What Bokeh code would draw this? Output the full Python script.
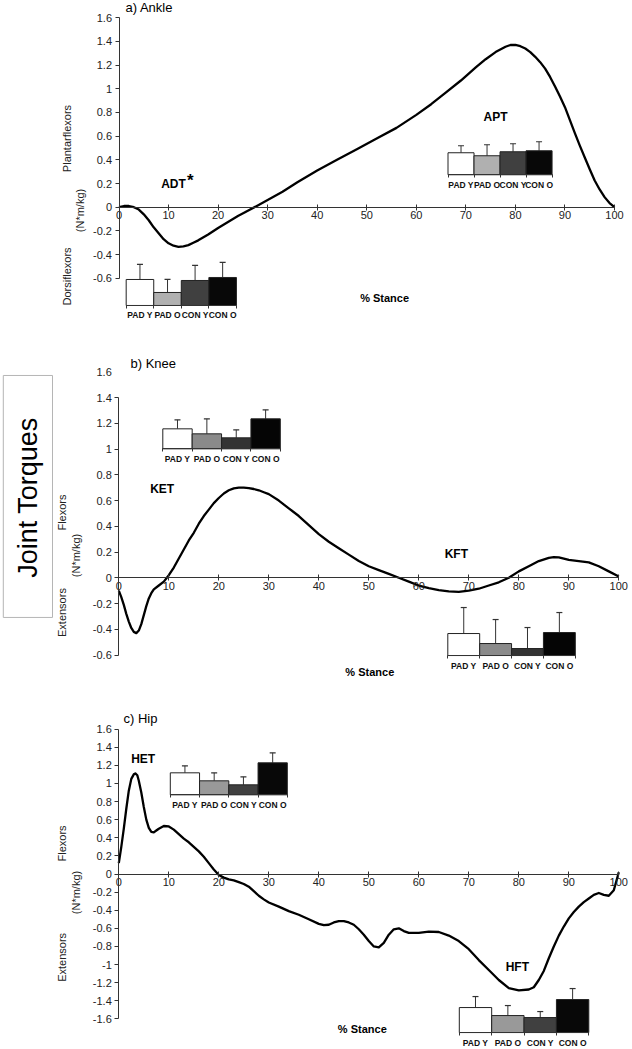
import numpy as np
from bokeh.plotting import figure
from bokeh.layouts import column
from bokeh.models import Range1d, LinearAxis, FixedTicker, CustomJSTickFormatter, ColumnDataSource
from bokeh.core.properties import value
from bokeh.embed import file_html
from bokeh.resources import INLINE

# ------------------------------------------------------------------ data
stance_ticks = [0, 10, 20, 30, 40, 50, 60, 70, 80, 90, 100]
ankle_ticks = [-0.6, -0.4, -0.2, 0, 0.2, 0.4, 0.6, 0.8, 1, 1.2, 1.4, 1.6]
knee_ticks = [-0.6, -0.4, -0.2, 0, 0.2, 0.4, 0.6, 0.8, 1, 1.2, 1.4]
knee_top_tick = [1.6]
hip_ticks = [-1.6, -1.4, -1.2, -1, -0.8, -0.6, -0.4, -0.2, 0, 0.2, 0.4, 0.6,
             0.8, 1, 1.2, 1.4, 1.6]

ankle_x = [0, 1, 2, 3, 4, 5, 6, 7, 8, 9, 10, 11, 12, 13, 14, 15, 16, 18, 20, 22,
           24, 26, 28, 30, 33, 36, 40, 44, 48, 52, 56, 60, 63, 66, 69, 72, 74, 76,
           78, 79, 80, 81, 82, 83, 84, 85, 86, 87, 88, 89, 90, 91, 92, 93, 94, 95,
           96, 97, 98, 99, 100]
ankle_y = [0.0, 0.01, 0.01, 0.0, -0.02, -0.06, -0.11, -0.17, -0.22, -0.27, -0.305,
           -0.325, -0.335, -0.33, -0.32, -0.30, -0.28, -0.23, -0.175, -0.125,
           -0.075, -0.03, 0.015, 0.06, 0.13, 0.21, 0.31, 0.40, 0.49, 0.58, 0.67,
           0.78, 0.87, 0.97, 1.07, 1.18, 1.25, 1.31, 1.355, 1.37, 1.37, 1.36, 1.34,
           1.31, 1.27, 1.225, 1.17, 1.10, 1.02, 0.935, 0.845, 0.735, 0.625, 0.52,
           0.42, 0.32, 0.225, 0.15, 0.085, 0.035, 0.0]

knee_x = [0, 0.5, 1, 1.5, 2, 2.5, 3, 3.5, 4, 4.5, 5, 5.5, 6, 6.5, 7, 8, 9, 10, 11,
          12, 13, 14, 15, 16, 17, 18, 19, 20, 21, 22, 23, 24, 25, 26, 27, 28, 29,
          30, 32, 34, 36, 38, 40, 42, 44, 46, 48, 50, 52, 54, 56, 58, 60, 62, 64,
          66, 68, 70, 72, 74, 76, 78, 80, 82, 84, 86, 87, 88, 90, 92, 94, 96, 98, 100]
knee_y = [-0.10, -0.15, -0.21, -0.28, -0.34, -0.39, -0.42, -0.43, -0.41, -0.36,
          -0.29, -0.22, -0.16, -0.12, -0.09, -0.06, -0.03, 0.02, 0.08, 0.15, 0.22,
          0.29, 0.35, 0.42, 0.48, 0.53, 0.58, 0.62, 0.655, 0.68, 0.695, 0.70, 0.70,
          0.697, 0.69, 0.68, 0.665, 0.65, 0.60, 0.54, 0.48, 0.41, 0.34, 0.28, 0.23,
          0.18, 0.13, 0.09, 0.06, 0.03, 0.0, -0.03, -0.06, -0.08, -0.095, -0.105,
          -0.11, -0.10, -0.085, -0.06, -0.035, 0.0, 0.05, 0.09, 0.13, 0.155, 0.16,
          0.158, 0.14, 0.13, 0.12, 0.09, 0.05, 0.01]

hip_x = [0, 0.5, 1, 1.5, 2, 2.5, 3, 3.3, 3.7, 4, 4.5, 5, 5.5, 6, 6.5, 7, 7.5, 8,
         9, 10, 11, 12, 13, 14, 15, 16, 17, 18, 19, 20, 21, 22, 23, 24, 25, 26, 27,
         28, 29, 30, 32, 34, 36, 38, 40, 41, 42, 43, 44, 45, 46, 47, 48, 49, 50,
         51, 52, 53, 54, 55, 56, 57, 58, 60, 62, 64, 66, 68, 70, 72, 74, 76, 78,
         80, 82, 83, 84, 85, 86, 87, 88, 89, 90, 91, 92, 93, 94, 95, 96, 97, 98,
         99, 100]
hip_y = [0.12, 0.30, 0.50, 0.72, 0.92, 1.05, 1.10, 1.11, 1.09, 1.03, 0.90, 0.74,
         0.60, 0.51, 0.465, 0.46, 0.48, 0.50, 0.53, 0.525, 0.49, 0.44, 0.39, 0.35,
         0.30, 0.25, 0.19, 0.12, 0.05, -0.01, -0.04, -0.06, -0.07, -0.09, -0.11,
         -0.14, -0.19, -0.24, -0.28, -0.315, -0.36, -0.41, -0.45, -0.50, -0.55,
         -0.565, -0.56, -0.535, -0.52, -0.52, -0.535, -0.56, -0.61, -0.67, -0.74,
         -0.80, -0.81, -0.76, -0.67, -0.61, -0.60, -0.63, -0.65, -0.65, -0.635,
         -0.64, -0.68, -0.74, -0.83, -0.95, -1.06, -1.17, -1.26, -1.285, -1.275,
         -1.25, -1.17, -1.07, -0.93, -0.80, -0.68, -0.58, -0.49, -0.42, -0.36,
         -0.31, -0.27, -0.23, -0.21, -0.23, -0.24, -0.18, 0.02]

groups = ["PAD Y", "PAD O", "CON Y", "CON O"]
# inset bar values (relative units) and upward error bars
adt_mean = [2.6, 1.3, 2.5, 2.8]
adt_err = [1.5, 1.3, 1.5, 1.5]
apt_mean = [2.2, 1.9, 2.3, 2.4]
apt_err = [0.7, 1.1, 0.8, 0.9]
ket_mean = [2.0, 1.5, 1.1, 3.0]
ket_err = [0.9, 1.5, 0.8, 0.9]
kft_mean = [2.2, 1.2, 0.7, 2.3]
kft_err = [2.6, 2.4, 2.1, 2.0]
het_mean = [2.2, 1.4, 1.0, 3.2]
het_err = [0.7, 0.8, 0.8, 1.0]
hft_mean = [2.5, 1.7, 1.5, 3.3]
hft_err = [1.1, 1.0, 0.6, 1.1]

# ------------------------------------------------------------------ styles
FONT = "Liberation Sans"
AXC = "#333333"
TXC = "#222222"
FIG_W = 632
ankle_colors = ["#ffffff", "#b0b0b0", "#404040", "#080808"]
knee_colors = ["#ffffff", "#8a8a8a", "#333333", "#050505"]
hip_colors = ["#ffffff", "#999999", "#404040", "#080808"]


def panel(height, x0_px, x_scale, y0_px, y_scale):
    xr = Range1d(-x0_px / x_scale, (FIG_W - x0_px) / x_scale)
    yr = Range1d(-(height - y0_px) / y_scale, y0_px / y_scale)
    p = figure(width=FIG_W, height=height, x_range=xr, y_range=yr,
               output_backend="svg", toolbar_location=None,
               x_axis_location=None, y_axis_location=None,
               min_border=0, min_border_left=0, min_border_right=0,
               min_border_top=0, min_border_bottom=0)
    p.outline_line_color = None
    p.xgrid.visible = False
    p.ygrid.visible = False
    return p


def main_axes(p, yticks, ybounds):
    fmt = CustomJSTickFormatter(code="return String(Math.round(tick * 10) / 10);")
    xa = LinearAxis(fixed_location=0, bounds=(0, 100),
                    ticker=FixedTicker(ticks=stance_ticks),
                    major_tick_in=3, major_tick_out=3, minor_tick_line_color=None,
                    axis_line_color=AXC, major_tick_line_color=AXC,
                    major_label_text_font=FONT, major_label_text_font_size="11px",
                    major_label_text_color=TXC, major_label_standoff=1)
    p.add_layout(xa, "below")
    ya = LinearAxis(fixed_location=0, bounds=ybounds,
                    ticker=FixedTicker(ticks=yticks), formatter=fmt,
                    major_tick_in=0, major_tick_out=4, minor_tick_line_color=None,
                    axis_line_color=AXC, major_tick_line_color=AXC,
                    major_label_text_font=FONT, major_label_text_font_size="11px",
                    major_label_text_color=TXC, major_label_standoff=3)
    p.add_layout(ya, "left")


def texts(p, xs, ys, labels, size, bold=False, angle=0.0, align="center",
          baseline="middle", color=TXC):
    p.text(x=xs, y=ys, text=labels, angle=angle, text_font=value(FONT),
           text_font_size=size, text_font_style="bold" if bold else "normal",
           text_align=align, text_baseline=baseline, text_color=color)


def inset(p, name, means, errs, colors, x0, x1, base, px_per_unit):
    """Small bar chart drawn on its own (extra) ranges inside the panel."""
    A, B = p.x_range.start, p.x_range.end
    C, D = p.y_range.start, p.y_range.end
    k = 10.0 / px_per_unit  # panel units per inset unit
    a = -(x0 - A) * 4 / (x1 - x0)
    span_x = 4 * (B - A) / (x1 - x0)
    c = -(base - C) / k
    span_y = (D - C) / k
    ex = dict(p.extra_x_ranges)
    ey = dict(p.extra_y_ranges)
    ex[name] = Range1d(a, a + span_x)
    ey[name] = Range1d(c, c + span_y)
    p.extra_x_ranges = ex
    p.extra_y_ranges = ey
    centers = [0.5, 1.5, 2.5, 3.5]
    src = ColumnDataSource(dict(x=centers, top=means,
                                etop=[m + e for m, e in zip(means, errs)],
                                color=colors))
    p.segment(x0="x", y0="top", x1="x", y1="etop", source=src,
              line_color="#333333", line_width=1,
              x_range_name=name, y_range_name=name)
    p.scatter(x="x", y="etop", marker="dash", size=6, source=src,
              line_color="#333333", line_width=1.2,
              x_range_name=name, y_range_name=name)
    p.vbar(x="x", width=1, top="top", bottom=0, source=src,
           fill_color="color", line_color="#222222", line_width=1,
           x_range_name=name, y_range_name=name)
    base_axis = LinearAxis(x_range_name=name, y_range_name=name, fixed_location=0,
                           bounds=(0, 4), ticker=FixedTicker(ticks=[0, 1, 2, 3, 4]),
                           major_tick_in=0, major_tick_out=3,
                           minor_tick_line_color=None, axis_line_color=AXC,
                           major_tick_line_color=AXC, major_label_text_color=None)
    p.add_layout(base_axis, "below")
    lab_axis = LinearAxis(x_range_name=name, y_range_name=name, fixed_location=0,
                          ticker=FixedTicker(ticks=centers),
                          major_label_overrides=dict(zip(centers, groups)),
                          axis_line_color=None, major_tick_line_color=None,
                          minor_tick_line_color=None, major_tick_in=0, major_tick_out=0,
                          major_label_standoff=5, major_label_text_font=FONT,
                          major_label_text_font_size="8.5px",
                          major_label_text_font_style="bold",
                          major_label_text_color="#111111")
    p.add_layout(lab_axis, "below")


# ------------------------------------------------------------------ a) Ankle
ANK_S = 118.4
pa = panel(340, 118.5, 4.955, 206.7, ANK_S)
main_axes(pa, ankle_ticks, (-0.6, 1.6))
pa.line(ankle_x, ankle_y, line_color="black", line_width=2.3, line_join="round")
inset(pa, "adt", adt_mean, adt_err, ankle_colors, 1.45, 23.7, -0.83, ANK_S)
inset(pa, "apt", apt_mean, apt_err, ankle_colors, 66.4, 87.4, 0.274, ANK_S)
texts(pa, [1.3], [1.687], ["a) Ankle"], "13px", align="left", color="black")
texts(pa, [-10.4, -7.77, -10.4], [0.58, -0.028, -0.585],
      ["Plantarflexors", "(N*m/kg)", "Dorsiflexors"], "11px", angle=np.pi / 2)
texts(pa, [11.0, 76.0], [0.198, 0.76], ["ADT", "APT"], "12px", bold=True,
      color="black")
texts(pa, [13.7], [0.225], ["*"], "17px", bold=True, align="left", color="black")
texts(pa, [53.6], [-0.763], ["% Stance"], "11px", bold=True, color="black")

# ------------------------------------------------------------------ b) Knee
KNE_S = 128.7
pb = panel(340, 118.3, 5.0, 237.3, KNE_S)
main_axes(pb, knee_ticks, (-0.6, 1.4))
top_axis = LinearAxis(fixed_location=0, ticker=FixedTicker(ticks=knee_top_tick),
                      formatter=CustomJSTickFormatter(code="return String(Math.round(tick * 10) / 10);"),
                      axis_line_color=None, major_tick_line_color=None,
                      minor_tick_line_color=None, major_tick_in=0, major_tick_out=4,
                      major_label_text_font=FONT, major_label_text_font_size="11px",
                      major_label_text_color=TXC, major_label_standoff=3)
pb.add_layout(top_axis, "left")
pb.line(knee_x, knee_y, line_color="black", line_width=2.3, line_join="round")
inset(pb, "ket", ket_mean, ket_err, knee_colors, 8.8, 32.3, 1.002, KNE_S)
inset(pb, "kft", kft_mean, kft_err, knee_colors, 65.8, 91.3, -0.604, KNE_S)
texts(pb, [2.34], [1.667], ["b) Knee"], "13px", align="left", color="black")
texts(pb, [-11.3, -8.66, -11.3], [0.507, 0.173, -0.27],
      ["Flexors", "(N*m/kg)", "Extensors"], "11px", angle=np.pi / 2)
texts(pb, [8.68, 67.5], [0.69, 0.186], ["KET", "KFT"], "12px", bold=True,
      color="black")
texts(pb, [50.2], [-0.733], ["% Stance"], "11px", bold=True, color="black")
pb.quad(left=[-23.1], right=[-13.26], top=[1.572], bottom=[-0.308],
        fill_color=None, line_color="#b5b5b5", line_width=1)
texts(pb, [-18.2], [0.624], ["Joint Torques"], "27px", angle=np.pi / 2,
      color="black")

# ------------------------------------------------------------------ c) Hip
HIP_S = 90.6
pc = panel(368, 118.3, 5.0, 193.5, HIP_S)
main_axes(pc, hip_ticks, (-1.6, 1.6))
pc.line(hip_x, hip_y, line_color="black", line_width=2.3, line_join="round")
inset(pc, "het", het_mean, het_err, hip_colors, 10.3, 33.7, 0.874, HIP_S)
inset(pc, "hft", hft_mean, hft_err, hip_colors, 68.1, 94.0, -1.75, HIP_S)
texts(pc, [0.94], [1.717], ["c) Hip"], "13px", align="left", color="black")
texts(pc, [-11.3, -8.66, -11.3], [0.337, -0.204, -0.92],
      ["Flexors", "(N*m/kg)", "Extensors"], "11px", angle=np.pi / 2)
texts(pc, [4.88, 79.7], [1.27, -1.03], ["HET", "HFT"], "12px", bold=True,
      color="black")
texts(pc, [48.7], [-1.71], ["% Stance"], "11px", bold=True, color="black")

layout = column(pa, pb, pc, spacing=0)
open("out.html", "w").write(file_html(layout, INLINE))
